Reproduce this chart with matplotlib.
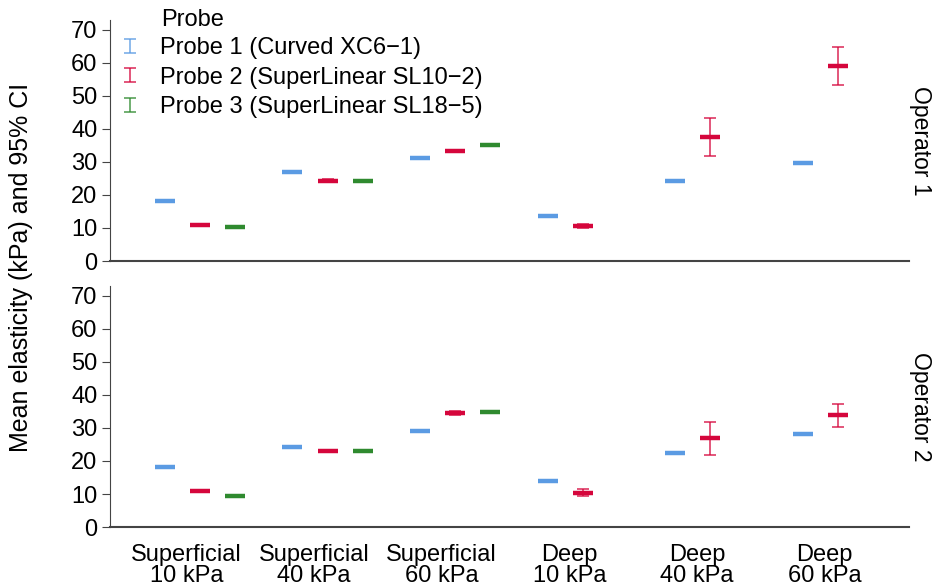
import matplotlib
matplotlib.use("Agg")
import matplotlib.pyplot as plt
from matplotlib.container import ErrorbarContainer
from matplotlib.legend_handler import HandlerErrorbar
import numpy as np

plt.rcParams['font.family'] = ['Liberation Sans', 'DejaVu Sans']

groups = ['Superficial\n10 kPa', 'Superficial\n40 kPa', 'Superficial\n60 kPa',
          'Deep\n10 kPa', 'Deep\n40 kPa', 'Deep\n60 kPa']
probes = ['Probe 1 (Curved XC6\u22121)', 'Probe 2 (SuperLinear SL10\u22122)',
          'Probe 3 (SuperLinear SL18\u22125)']
colors = ['#5b9be3', '#d5063c', '#2f8a2f']

# operator 1: means, lower CI, upper CI per probe (nan = not measured)
op1_mean = {
    0: [18.3, 27.0, 31.2, 13.6, 24.3, 29.7],
    1: [11.0, 24.3, 33.3, 10.7, 37.6, 59.1],
    2: [10.3, 24.2, 35.1, np.nan, np.nan, np.nan],
}
op1_lo = {
    0: [18.0, 26.7, 30.9, 13.3, 24.0, 29.4],
    1: [10.7, 23.9, 32.9, 10.1, 31.9, 53.2],
    2: [10.0, 23.9, 34.8, np.nan, np.nan, np.nan],
}
op1_hi = {
    0: [18.6, 27.3, 31.5, 13.9, 24.6, 30.0],
    1: [11.3, 24.7, 33.7, 11.3, 43.2, 64.9],
    2: [10.6, 24.5, 35.4, np.nan, np.nan, np.nan],
}

# operator 2
op2_mean = {
    0: [18.1, 24.3, 29.0, 14.0, 22.5, 28.1],
    1: [10.9, 23.1, 34.4, 10.4, 26.9, 33.9],
    2: [9.3, 23.1, 34.8, np.nan, np.nan, np.nan],
}
op2_lo = {
    0: [17.8, 24.0, 28.7, 13.7, 22.2, 27.8],
    1: [10.6, 22.8, 33.8, 9.4, 21.8, 30.4],
    2: [9.0, 22.8, 34.5, np.nan, np.nan, np.nan],
}
op2_hi = {
    0: [18.4, 24.6, 29.3, 14.3, 22.8, 28.4],
    1: [11.2, 23.4, 35.0, 11.4, 31.8, 37.2],
    2: [9.6, 23.4, 35.1, np.nan, np.nan, np.nan],
}

offsets = [-0.17, 0.105, 0.38]

fig = plt.figure(figsize=(9.34, 5.88), dpi=100)
ax1 = fig.add_axes([0.1178, 0.5561, 0.855, 0.4099])
ax2 = fig.add_axes([0.1178, 0.1037, 0.855, 0.4099])

x = np.arange(len(groups))
panels = [(ax1, op1_mean, op1_lo, op1_hi, 'Operator 1'),
          (ax2, op2_mean, op2_lo, op2_hi, 'Operator 2')]

for ax, mean, lo, hi, name in panels:
    for p in range(3):
        m = np.array(mean[p])
        l = np.array(lo[p])
        h = np.array(hi[p])
        xp = x + offsets[p]
        ax.errorbar(xp, m, yerr=[m - l, h - m], fmt='none', ecolor=colors[p],
                    elinewidth=1.2, capsize=4, capthick=1.2, alpha=0.8,
                    label=probes[p])
        ax.plot(xp, m, ls='none', marker='_', ms=14, mew=3.2, color=colors[p])
    ax.set_xlim(-0.6, 5.66)
    ax.set_ylim(0, 73)
    ax.set_yticks(range(0, 71, 10))
    ax.spines['top'].set_visible(False)
    ax.spines['right'].set_visible(False)
    ax.spines['left'].set_color('#444444')
    ax.spines['bottom'].set_color('#444444')
    ax.spines['bottom'].set_linewidth(1.5)
    ax.tick_params(axis='y', labelsize=17, length=6, color='#444444', pad=3)
    ax.tick_params(axis='x', length=0)
    ax.text(1.0, 0.5, name, transform=ax.transAxes, rotation=-90,
            ha='left', va='center', fontsize=16.5)

ax1.set_xticks([])
ax2.set_xticks(x)
ax2.set_xticklabels(groups, fontsize=17, linespacing=0.95)
ax2.tick_params(axis='x', pad=12)

leg = ax1.legend(loc='upper left', bbox_to_anchor=(122 / 934, 1 - 37 / 588),
                 bbox_transform=fig.transFigure, frameon=False,
                 fontsize=17, handlelength=0.7, borderpad=0,
                 handletextpad=0.9, labelspacing=0.32, borderaxespad=0,
                 handler_map={ErrorbarContainer: HandlerErrorbar(yerr_size=0.3)})
fig.text(161 / 934, 1 - 20 / 588, 'Probe', ha='left', va='center', fontsize=17)

fig.text(0.022, 1 - 267 / 588, 'Mean elasticity (kPa) and 95% CI', rotation=90,
         ha='center', va='center', fontsize=18)

fig.savefig('out.png', dpi=100)
